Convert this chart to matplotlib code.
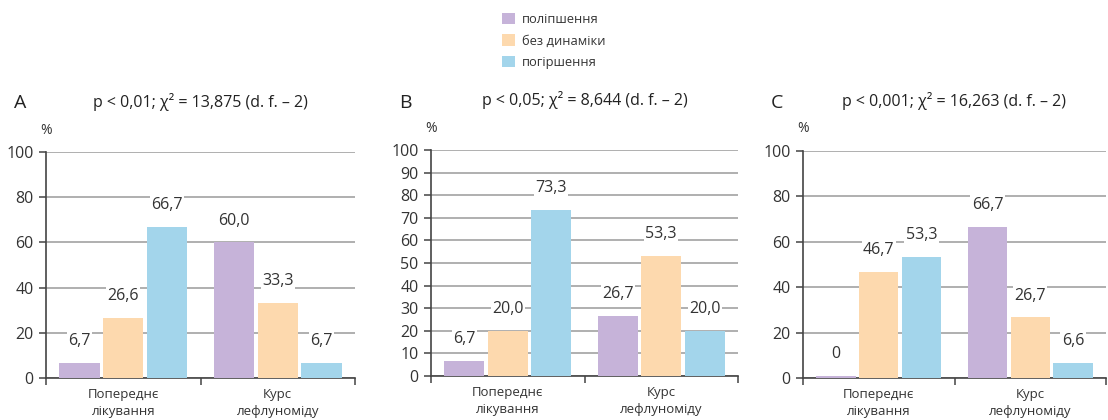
import matplotlib.pyplot as plt
import numpy as np

plt.rcParams["font.family"] = ["Open Sans", "DejaVu Sans"]

# ---------------------------------------------------------------------------
# Data
# ---------------------------------------------------------------------------
categories = ["Попереднє\nлікування", "Курс\nлефлуноміду"]
series_names = ["поліпшення", "без динаміки", "погіршення"]
colors = ["#c6b3d9", "#fdd9ae", "#a3d5eb"]

# rows = category, cols = series
vals_a = [[6.7, 26.6, 66.7], [60.0, 33.3, 6.7]]
vals_b = [[6.7, 20.0, 73.3], [26.7, 53.3, 20.0]]
vals_c = [[0.0, 46.7, 53.3], [66.7, 26.7, 6.6]]

letters = ["A", "B", "C"]
titles = [
    "p < 0,01; χ² = 13,875 (d. f. – 2)",
    "p < 0,05; χ² = 8,644 (d. f. – 2)",
    "p < 0,001; χ² = 16,263 (d. f. – 2)",
]
yticks_a = [0, 20, 40, 60, 80, 100]
yticks_b = [0, 10, 20, 30, 40, 50, 60, 70, 80, 90, 100]
yticks_c = [0, 20, 40, 60, 80, 100]

# ---------------------------------------------------------------------------
# Layout (figure fractions)
# ---------------------------------------------------------------------------
W, H = 1108, 420
boxes = [
    (46, 355, 152, 378),
    (431, 738, 150, 376),
    (803, 1106, 151, 378),
]

fig = plt.figure(figsize=(W / 100, H / 100), dpi=100)

bar_w = 0.26
offsets = [-0.283, 0.0, 0.283]
handles = []

for k, (data, yt, letter, title, box) in enumerate(zip(
        [vals_a, vals_b, vals_c], [yticks_a, yticks_b, yticks_c],
        letters, titles, boxes)):
    x0, x1, ytop, ybot = box
    ax = fig.add_axes([x0 / W, 1 - ybot / H, (x1 - x0) / W, (ybot - ytop) / H])
    data = np.array(data)
    x = np.arange(len(categories))

    for j in range(len(series_names)):
        heights = data[:, j]
        shown = np.maximum(heights, 0.8)  # zero bar still drawn as a thin strip
        bars = ax.bar(x + offsets[j], shown, bar_w, color=colors[j],
                      label=series_names[j], zorder=3)
        if k == 0:
            handles.append(bars)
        for xi, h in zip(x + offsets[j], heights):
            txt = f"{h:.1f}".replace(".", ",") if h != 0 else "0"
            ax.annotate(txt, (xi, max(h, 0.8)), xytext=(0, 10),
                        textcoords="offset points", ha="center", va="bottom",
                        fontsize=11.5, color="#333333", zorder=4,
                        bbox=dict(facecolor="white", edgecolor="none", pad=1))

    ax.set_xlim(-0.5, 1.5)
    ax.set_ylim(0, 100)
    ax.set_yticks(yt)
    ax.set_yticklabels([str(t) for t in yt], fontsize=11.5, color="#333333")
    ax.yaxis.grid(True, color="#9a9a9a", linewidth=1.1, zorder=0)
    ax.set_axisbelow(True)

    ax.set_xticks(x)
    ax.set_xticklabels(categories, fontsize=9.5, color="#333333", linespacing=1.45)
    ax.tick_params(axis="x", length=0, pad=7)
    ax.set_xticks([-0.5, 0.5, 1.5], minor=True)
    ax.tick_params(axis="x", which="minor", length=5, direction="out",
                   color="#444444", width=1.1)
    ax.tick_params(axis="y", length=5, width=1.1, color="#444444", pad=4)

    for s in ["top", "right"]:
        ax.spines[s].set_visible(False)
    for s in ["left", "bottom"]:
        ax.spines[s].set_color("#444444")
        ax.spines[s].set_linewidth(1.2)

    # panel letter, title and unit
    fig.text((x0 - 32) / W, 1 - 103 / H, letter, fontsize=14,
             color="#222222", ha="left", va="center")
    ax.text(0.5, 1 + 50 / (ybot - ytop), title, transform=ax.transAxes,
            fontsize=11.5, color="#222222", ha="center", va="center")
    ax.text(0, 1 + 22 / (ybot - ytop), "%", transform=ax.transAxes,
            fontsize=10, color="#333333", ha="center", va="center")

fig.legend(handles, series_names, loc="upper left",
           bbox_to_anchor=(490 / W, 1 - 1 / H), frameon=False, fontsize=9.3,
           handlelength=1.0, handleheight=1.0, handletextpad=0.6,
           labelspacing=0.65, labelcolor="#333333")

fig.savefig("out.png", dpi=100)
